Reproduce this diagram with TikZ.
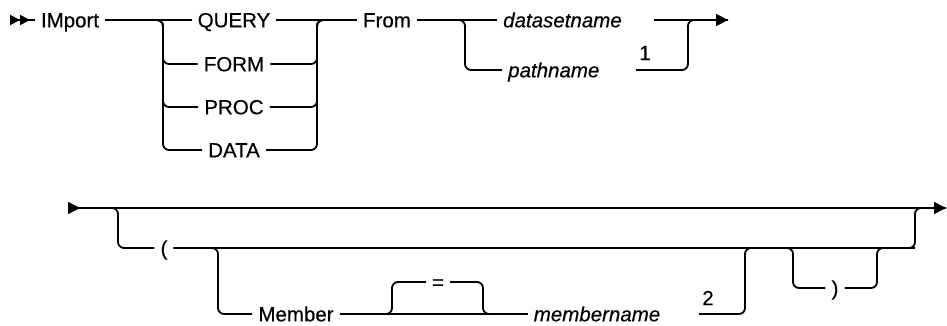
\documentclass[tikz,border=0pt]{standalone}
\usepackage{fontspec}
\setmainfont[FakeBold=0.4]{Liberation Sans}
\usepackage{tikz}
\usetikzlibrary{arrows.meta,positioning,calc}
\newcommand{\railsize}{\fontsize{20.5}{23}\selectfont}
\tikzset{
  kwd/.style={font=\railsize,inner xsep=6pt,inner ysep=0pt,text height=14.6pt,text depth=0pt},
  varname/.style={kwd,font=\railsize\itshape},
  fnote/.style={font=\railsize,inner sep=3pt},
  rail/.style={line width=1.8pt,rounded corners=6pt},
  railhead/.style={rail,-{Triangle[length=12pt,width=12pt]}},
  railstart/.style={rail,{Triangle[length=10pt,width=10pt,reversed]Triangle[length=10pt,width=10pt,reversed]}-},
  railcont/.style={rail,{Triangle[length=12pt,width=12pt,reversed]}-{Triangle[length=12pt,width=12pt]}}
}
\begin{document}
\begin{tikzpicture}[x=1pt,y=-1pt]
\useasboundingbox (0,0) rectangle (947,326);
% first line
\coordinate (s1) at (10,20);
\coordinate (e1) at (728,20);
\coordinate (br1) at (163,20);
\coordinate (jn1) at (317,20);
\coordinate (br2) at (465,20);
\coordinate (jn2) at (688,20);
\node[kwd] (imp) at (70,20) {IMport};
\node[kwd] (qry) at (234,20) {QUERY};
\node[kwd] (form) at (234,64) {FORM};
\node[kwd] (proc) at (234,107) {PROC};
\node[kwd] (data) at (234,150) {DATA};
\node[kwd] (from) at (387,20) {From};
\node[varname,anchor=west] (dsn) at (497,20) {datasetname};
\node[varname,anchor=west] (pth) at (502,70) {pathname};
\node[fnote] (fn1) at (645,53) {1};
\draw[railstart] (s1) -- (imp.west);
\draw[rail] (imp.east) -- (qry.west);
\foreach \opt in {form,proc,data}
  \draw[rail] (imp.east) -- (br1) |- (\opt.west);
\draw[rail] (qry.east) -- (from.west);
\foreach \opt in {form,proc,data}
  \draw[rail] (\opt.east) -| (jn1) -- (from.west);
\draw[rail] (from.east) -- (dsn.west);
\draw[rail] (from.east) -- (br2) |- (pth.west);
\draw[rail] (fn1.west |- pth.east) -| (jn2) -- (e1);
\draw[railhead] (fn1.east |- dsn.east) -- (e1);
% second line
\coordinate (s2) at (68,208);
\coordinate (e2) at (946,208);
\coordinate (br3) at (118,208);
\coordinate (jn3) at (915,208);
\coordinate (br4) at (218,248);
\coordinate (br5) at (392,314);
\coordinate (jn5) at (483,314);
\coordinate (jn4) at (745,248);
\coordinate (br6) at (793,248);
\coordinate (jn6) at (877,248);
\node[kwd] (lpar) at (164,248) {(};
\node[kwd] (mem) at (296,314) {Member};
\node[kwd] (eq) at (438,282) {=};
\node[varname] (mname) at (597,314) {membername};
\node[fnote] (fn2) at (708,298) {2};
\node[kwd] (rpar) at (835,288) {)};
\draw[railcont] (s2) -- (e2);
\draw[rail] (s2) -- (br3) |- (lpar.west);
\draw[rail] (lpar.east) -| (jn3) -- (e2);
\draw[rail] (lpar.east) -- (br4) |- (mem.west);
\draw[rail] (mem.east) -- (mname.west);
\draw[rail] (mem.east) -- (br5) |- (eq.west);
\draw[rail] (eq.east) -| (jn5) -- (mname.west);
\draw[rail] (fn2.west |- mname.east) -| (jn4) -- (br6);
\draw[rail] (jn4) -- (br6) |- (rpar.west);
\draw[rail] (rpar.east) -| (jn6) -- (jn3 |- jn6);
\end{tikzpicture}
\end{document}
